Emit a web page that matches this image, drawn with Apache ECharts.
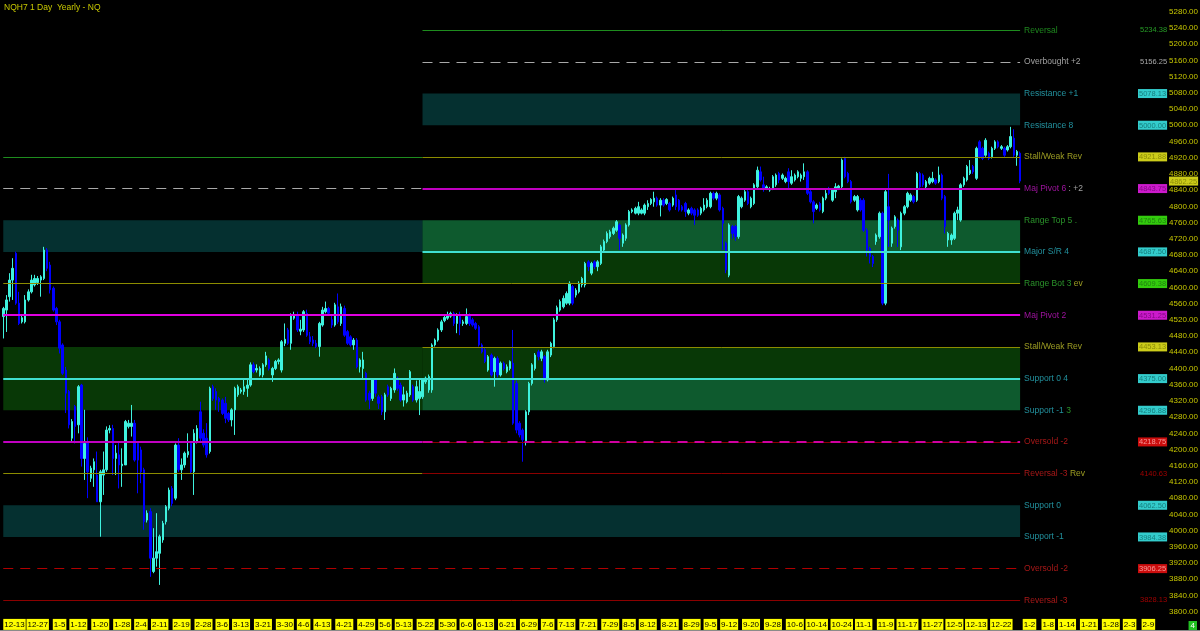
<!DOCTYPE html>
<html><head><meta charset="utf-8">
<script src="https://cdn.jsdelivr.net/npm/echarts@6/dist/echarts.min.js"></script>
<style>html,body{margin:0;padding:0;background:#000;}#c{width:1200px;height:631px;}</style>
</head><body><div id="c"></div>
<script>
// ---------- DATA ----------
const title = 'NQH7 1 Day  Yearly - NQ';
// daily bars [open, close, low, high]
const ohlc = [
[4528,4548,4474,4552],[4544,4569,4490,4581],[4577,4618,4565,4635],[4618,4647,4569,4672],[4684,4561,4557,4688],[4561,4511,4507,4589],[4515,4525,4511,4530],[4515,4569,4511,4581],[4569,4589,4565,4595],[4589,4618,4585,4631],
[4606,4622,4602,4631],[4612,4622,4606,4628],[4618,4626,4577,4630],[4622,4692,4618,4700],[4692,4647,4640,4697],[4655,4594,4585,4663],[4598,4544,4540,4602],[4548,4515,4507,4552],[4515,4450,4437,4520],[4458,4388,4384,4462],
[4396,4339,4290,4404],[4343,4261,4252,4347],[4228,4269,4220,4275],[4306,4257,4215,4310],[4261,4355,4240,4359],[4359,4178,4158,4362],[4178,4215,4125,4298],[4219,4145,4080,4230],[4129,4154,4120,4160],[4150,4170,4108,4178],
[4137,4071,4071,4195],[4071,4145,3985,4150],[4137,4150,4088,4195],[4150,4248,4145,4257],[4248,4252,4240,4260],[4252,4178,4137,4261],[4178,4191,4137,4211],[4187,4162,4104,4219],[4160,4164,4108,4203],[4162,4269,4162,4273],
[4257,4265,4252,4273],[4257,4265,4232,4310],[4265,4174,4170,4273],[4215,4174,4092,4220],[4199,4145,4117,4207],[4150,4022,4002,4155],[4026,4043,4020,4050],[4047,3932,3886,4055],[3899,3932,3895,4006],[3932,3948,3911,4043],
[3944,3985,3866,3990],[3977,4018,3970,4024],[4022,4059,4015,4063],[4055,4100,4050,4106],[4104,4067,4060,4110],[4080,4211,4075,4215],[4211,4150,4145,4228],[4150,4162,4125,4178],[4162,4191,4155,4195],[4187,4195,4180,4240],
[4215,4145,4140,4220],[4145,4240,4088,4250],[4219,4252,4215,4260],[4293,4228,4220,4318],[4240,4211,4205,4250],[4228,4187,4180,4265],[4195,4351,4190,4355],[4355,4326,4320,4360],[4343,4322,4298,4351],[4326,4318,4293,4330],
[4322,4289,4285,4326],[4314,4277,4265,4330],[4289,4273,4268,4293],[4273,4298,4257,4302],[4298,4351,4236,4355],[4335,4355,4330,4360],[4343,4347,4338,4352],[4343,4355,4335,4372],[4351,4359,4330,4372],[4359,4409,4355,4415],
[4409,4392,4388,4415],[4396,4400,4390,4410],[4384,4400,4380,4405],[4384,4409,4378,4413],[4409,4431,4404,4441],[4421,4400,4395,4425],[4384,4400,4367,4404],[4400,4417,4396,4421],[4417,4421,4410,4425],[4396,4466,4390,4470],
[4462,4472,4455,4511],[4495,4462,4458,4500],[4462,4532,4446,4536],[4524,4532,4520,4540],[4532,4495,4490,4540],[4492,4497,4482,4520],[4495,4540,4490,4544],[4536,4482,4478,4545],[4478,4466,4460,4490],[4470,4462,4455,4480],
[4462,4454,4450,4470],[4454,4511,4429,4515],[4507,4544,4503,4552],[4540,4548,4536,4565],[4548,4536,4530,4552],[4520,4507,4500,4530],[4507,4557,4503,4562],[4552,4515,4510,4585],[4511,4552,4505,4560],[4548,4482,4478,4555],
[4491,4462,4458,4495],[4478,4458,4454,4482],[4458,4470,4446,4475],[4470,4404,4400,4475],[4404,4421,4390,4425],[4400,4421,4372,4441],[4388,4322,4318,4392],[4339,4322,4300,4345],[4326,4372,4320,4376],[4372,4339,4330,4376],
[4330,4314,4300,4335],[4330,4293,4285,4335],[4293,4335,4273,4340],[4355,4335,4330,4360],[4326,4351,4320,4355],[4347,4388,4340,4400],[4376,4351,4345,4380],[4359,4322,4318,4365],[4322,4335,4306,4355],[4318,4339,4314,4345],
[4335,4392,4330,4396],[4355,4322,4318,4360],[4322,4355,4316,4370],[4326,4343,4285,4372],[4330,4372,4325,4376],[4367,4376,4362,4380],[4347,4380,4340,4385],[4347,4458,4340,4462],[4458,4470,4454,4474],[4470,4495,4466,4499],
[4495,4515,4490,4520],[4518,4526,4514,4530],[4524,4532,4520,4540],[4529,4536,4525,4540],[4536,4511,4505,4540],[4511,4532,4487,4536],[4532,4511,4482,4540],[4511,4515,4505,4520],[4511,4528,4507,4548],[4532,4511,4505,4536],
[4520,4507,4503,4525],[4511,4499,4495,4515],[4503,4458,4454,4507],[4458,4441,4437,4462],[4446,4417,4413,4450],[4396,4429,4392,4433],[4433,4384,4380,4437],[4392,4425,4355,4429],[4425,4384,4378,4430],[4384,4413,4380,4417],
[4413,4400,4395,4417],[4392,4404,4388,4410],[4400,4417,4395,4420],[4413,4265,4261,4495],[4363,4248,4240,4370],[4265,4236,4230,4270],[4248,4224,4170,4252],[4219,4293,4210,4297],[4293,4363,4285,4367],[4363,4409,4358,4413],
[4400,4433,4395,4438],[4441,4429,4420,4446],[4425,4441,4418,4446],[4429,4372,4365,4433],[4372,4441,4368,4446],[4433,4462,4428,4466],[4454,4520,4450,4525],[4520,4550,4515,4555],[4544,4565,4540,4570],[4552,4573,4548,4580],
[4561,4585,4557,4590],[4561,4610,4556,4615],[4602,4561,4556,4606],[4581,4593,4575,4598],[4589,4610,4585,4615],[4606,4622,4600,4626],[4606,4659,4600,4663],[4663,4651,4640,4667],[4635,4659,4630,4663],[4663,4651,4645,4667],
[4651,4663,4640,4667],[4659,4700,4655,4705],[4692,4713,4688,4718],[4713,4733,4709,4738],[4725,4737,4720,4742],[4733,4746,4729,4750],[4741,4762,4737,4766],[4754,4721,4692,4758],[4709,4729,4700,4733],[4721,4754,4715,4758],
[4754,4787,4750,4791],[4787,4791,4783,4795],[4783,4795,4780,4799],[4783,4799,4778,4811],[4783,4791,4780,4795],[4783,4803,4778,4807],[4799,4807,4791,4815],[4807,4817,4803,4820],[4811,4820,4799,4836],[4820,4803,4799,4824],
[4803,4815,4775,4820],[4815,4803,4799,4820],[4807,4817,4803,4820],[4807,4791,4787,4811],[4803,4820,4799,4824],[4828,4799,4791,4840],[4815,4791,4787,4818],[4799,4791,4787,4803],[4807,4787,4774,4811],[4783,4791,4778,4795],
[4795,4783,4778,4799],[4791,4778,4754,4795],[4791,4778,4774,4795],[4783,4795,4778,4799],[4791,4803,4787,4820],[4799,4815,4795,4820],[4799,4832,4795,4836],[4832,4820,4815,4836],[4820,4832,4815,4836],[4828,4791,4787,4832],
[4795,4758,4692,4799],[4709,4643,4635,4713],[4630,4754,4625,4758],[4750,4733,4720,4754],[4750,4725,4715,4754],[4725,4824,4720,4828],[4799,4820,4795,4824],[4815,4836,4811,4840],[4836,4807,4803,4840],[4799,4820,4795,4824],
[4807,4853,4803,4857],[4848,4889,4844,4898],[4885,4865,4861,4898],[4853,4844,4836,4873],[4844,4848,4840,4852],[4840,4844,4836,4848],[4844,4873,4840,4877],[4853,4877,4848,4881],[4881,4865,4857,4885],[4869,4877,4865,4881],
[4861,4869,4857,4873],[4885,4861,4844,4894],[4857,4873,4853,4889],[4865,4877,4861,4881],[4873,4885,4869,4889],[4869,4877,4861,4881],[4873,4885,4865,4906],[4885,4832,4828,4889],[4836,4811,4807,4840],[4811,4787,4758,4815],
[4795,4803,4791,4807],[4807,4791,4787,4811],[4787,4820,4783,4824],[4820,4832,4815,4840],[4844,4832,4828,4848],[4815,4840,4811,4844],[4836,4848,4820,4857],[4844,4850,4840,4853],[4848,4914,4844,4918],[4918,4873,4869,4922],
[4881,4861,4857,4885],[4861,4811,4807,4865],[4815,4824,4811,4828],[4791,4824,4787,4828],[4815,4791,4787,4820],[4815,4741,4737,4820],[4741,4692,4676,4746],[4696,4676,4659,4700],[4676,4659,4650,4680],[4713,4729,4705,4733],
[4725,4783,4720,4787],[4783,4561,4556,4787],[4561,4836,4556,4840],[4799,4766,4700,4880],[4709,4746,4700,4750],[4750,4774,4745,4778],[4766,4741,4700,4770],[4700,4783,4692,4787],[4783,4799,4778,4803],[4799,4832,4795,4836],
[4815,4828,4811,4832],[4824,4811,4807,4828],[4815,4881,4811,4885],[4881,4848,4844,4885],[4877,4853,4848,4881],[4848,4861,4844,4865],[4857,4869,4853,4873],[4861,4869,4857,4885],[4865,4857,4853,4869],[4861,4877,4857,4898],
[4877,4820,4815,4881],[4824,4750,4733,4828],[4717,4733,4700,4737],[4717,4729,4705,4733],[4721,4783,4717,4787],[4783,4791,4766,4799],[4766,4853,4762,4857],[4853,4869,4848,4873],[4865,4898,4861,4902],[4881,4889,4877,4914],
[4898,4885,4880,4902],[4869,4943,4865,4947],[4959,4922,4918,4963],[4943,4918,4914,4947],[4926,4963,4922,4968],[4931,4918,4914,4935],[4922,4943,4918,4947],[4943,4959,4939,4963],[4959,4947,4943,4963],[4943,4947,4939,4951],
[4943,4926,4922,4947],[4939,4947,4935,4951],[4947,4972,4943,4996],[4968,4926,4922,4990],[4926,4935,4900,4939],[4931,4862.25,4857,4935]
];
const lastPrice = 4862.25;
// level set (current year) shown on the right
const levelNames = ['Reversal','Overbought +2','Resistance +1','Resistance 8','Stall/Weak Rev','Maj Pivot 6','Range Top 5 .','Major S/R 4','Range Bot 3','Maj Pivot 2','Stall/Weak Rev','Support 0 4','Support -1','Oversold -2','Reversal -3','Support 0','Support -1','Oversold -2','Reversal -3'];
const levelTails = ['','','','','',' : +2','','',' ev','','','',' 3','',' Rev','','','',''];
const levelValues = [5234.38,5156.25,5078.13,5000.00,4921.88,4843.75,4765.63,4687.50,4609.38,4531.25,4453.13,4375.00,4296.88,4218.75,4140.63,4062.50,3984.38,3906.25,3828.13];
// x-axis tick labels (dates of the labelled bars)
const tickDates = ['2015-12-13','2015-12-27','2016-01-05','2016-01-12','2016-01-20','2016-01-28','2016-02-04','2016-02-11','2016-02-19','2016-02-28','2016-03-06','2016-03-13','2016-03-21','2016-03-30','2016-04-06','2016-04-13','2016-04-21','2016-04-29','2016-05-06','2016-05-13','2016-05-22','2016-05-30','2016-06-06','2016-06-13','2016-06-21','2016-06-29','2016-07-06','2016-07-13','2016-07-21','2016-07-29','2016-08-05','2016-08-12','2016-08-21','2016-08-29','2016-09-05','2016-09-12','2016-09-20','2016-09-28','2016-10-06','2016-10-14','2016-10-24','2016-11-01','2016-11-09','2016-11-17','2016-11-27','2016-12-05','2016-12-13','2016-12-22','2017-01-02','2017-01-08','2017-01-14','2017-01-21','2017-01-28','2017-02-03','2017-02-09'];
const closedDays = ['2015-12-25','2016-01-01','2016-03-25'];
const firstDay = '2015-12-13';
const totalSlots = 383;

// ---------- category calendar: Sun-Fri sessions in 2015/16, daily projection in 2017 ----------
function buildDates(start, n) {
  const out = []; const d = new Date(start + 'T00:00:00Z');
  while (out.length < n) {
    const iso = d.toISOString().slice(0, 10);
    const sat = d.getUTCDay() === 6 && d.getUTCFullYear() < 2017;
    if (!sat && !closedDays.includes(iso)) out.push(iso);
    d.setUTCDate(d.getUTCDate() + 1);
  }
  return out;
}
const cats = buildDates(firstDay, totalSlots);
const tickSet = new Set(tickDates);
const md = s => { const p = s.split('-'); return (+p[1]) + '-' + (+p[2]); };

const FONT = "'Liberation Sans',Arial,sans-serif";
const E = ohlc.length - 1, S = 134, L = 0;
const up = '#3FF2DE', down = '#0000FF';

const solid = (c, w) => ({ color: c, width: w || 1, type: 'solid', opacity: 1 });
const dash = (c, w) => ({ color: c, width: w || 1, type: [10, 7], opacity: 1 });
const seg = (a, b, v, st) => [{ coord: [cats[a], v], lineStyle: st }, { coord: [cats[b], v] }];
const zone = (a, b, v1, v2, c) => [{ coord: [cats[a], v1], itemStyle: { color: c } }, { coord: [cats[b], v2] }];
const V = levelValues;
const TEAL = 'rgba(12,120,120,0.4)', LTG = 'rgba(35,225,115,0.4)', DKG = 'rgba(20,140,15,0.4)';

const zones = [
  zone(L, S, V[6], V[7], TEAL),
  zone(L, S, V[10], V[12], DKG),
  zone(L, E, V[15], V[16], TEAL),
  zone(S, E, V[2], V[3], TEAL),
  zone(S, E, V[6], V[7], LTG),
  zone(S, E, V[7], V[8], DKG),
  zone(S, E, V[10], V[11], DKG),
  zone(S, E, V[11], V[12], LTG)
];
const lines = [
  seg(S, E, V[0], solid('#1E8C1E')),
  seg(S, E, V[1], dash('#A8A8A8')),
  seg(L, S, V[4], solid('#1E8C1E')),
  seg(S, E, V[4], solid('#8C8C00')),
  seg(L, S, V[5], dash('#A8A8A8')),
  seg(S, E, V[5], solid('#C000C0', 2)),
  seg(S, E, V[7], solid('#40E0D0', 2)),
  seg(L, E, V[8], solid('#8C8C00')),
  seg(L, E, V[9], solid('#E000E0', 2)),
  seg(S, E, V[10], solid('#8C8C00')),
  seg(L, E, V[11], solid('#40E0D0', 2)),
  seg(L, S, V[13], solid('#C000C0', 2)),
  seg(S, E, V[13], solid('#8B0000')),
  seg(S, E, V[13], dash('#D000A0', 2)),
  seg(L, S, V[14], solid('#8C8C00')),
  seg(S, E, V[14], solid('#8B0000')),
  seg(L, E, V[17], dash('#B00000')),
  seg(L, E, V[18], solid('#8B0000'))
];

const nameKeys = ['g','gr','t','t','o','m','l','t','l','m','o','t','t','r','r','t','t','r','r'];
const tailKeys = ['','','','','','gr','','','o','','','','l','','o','','','',''];
const valKeys = ['vg','vgr','vc','vc','vy','vm','vl','vc','vl','vm','vy','vc','vc','vr','vrt','vc','vc','vr','vrt'];
const tx = (c, s) => ({ color: c, fontSize: s || 8.5, fontFamily: FONT });
const box = (bg, c) => ({ color: c, backgroundColor: bg, fontSize: 7.5, fontFamily: FONT, padding: [1, 1, 0, 1], lineHeight: 10 });
const rich = {
  g: tx('#25A825'), gr: tx('#C8C8C8'), t: tx('#2AB4C4'), o: tx('#C2C22A'), m: tx('#C818C8'), l: tx('#34B834'), r: tx('#D21E1E'),
  vg: tx('#30C030', 7.5), vgr: tx('#D0D0D0', 7.5), vrt: tx('#C80000', 7.5),
  vc: box('#40FFFF', '#0E6A6A'), vy: box('#FFFF20', '#7A7A00'), vm: box('#FF20FF', '#700070'),
  vl: box('#40FF10', '#1A7010'), vr: box('#FF1010', '#FFB8B8')
};

const nameData = levelValues.map((v, i) => ({
  value: [cats[E], v],
  label: { formatter: '{' + nameKeys[i] + '|' + levelNames[i] + '}' + (levelTails[i] ? '{' + tailKeys[i] + '|' + levelTails[i] + '}' : '') }
}));
const valData = levelValues.map((v, i) => ({
  value: [cats[E], v],
  label: { formatter: '{' + valKeys[i] + '|' + v.toFixed(2) + '}' }
}));
valData.push({ value: [cats[E], lastPrice], label: { distance: 178, formatter: '{vy|' + lastPrice.toFixed(2) + '}' } });

const chart = echarts.init(document.getElementById('c'), null, { renderer: 'canvas' });
chart.setOption({
  backgroundColor: '#000',
  animation: false,
  title: { text: title, left: 4, top: 3, padding: 0, textStyle: { color: '#C8C800', fontSize: 8.5, fontWeight: 'normal', fontFamily: FONT } },
  grid: { left: 1.7, right: 0, top: -4.5, bottom: 3.1, containLabel: false, outerBoundsMode: 'none' },
  xAxis: {
    type: 'category', data: cats, boundaryGap: true, offset: -11,
    axisLine: { show: false }, axisTick: { show: false }, splitLine: { show: false },
    axisLabel: {
      interval: (i, v) => tickSet.has(v), formatter: v => md(v), margin: 2, hideOverlap: false, alignMinLabel: 'left',
      color: '#000', backgroundColor: '#FFFF00', fontSize: 8, fontFamily: FONT, padding: [1, 1, 0, 1], lineHeight: 10
    }
  },
  yAxis: {
    type: 'value', position: 'right', min: 3760, max: 5320, interval: 40,
    axisLine: { show: false }, axisTick: { show: false }, splitLine: { show: false },
    axisLabel: { inside: true, margin: 2, color: '#C8C800', fontSize: 8, fontFamily: FONT, formatter: v => v.toFixed(2), showMinLabel: false, showMaxLabel: false }
  },
  series: [
    { type: 'candlestick', name: 'NQH7', data: ohlc, z: 2, barWidth: 2,
      itemStyle: { color: up, color0: down, borderColor: up, borderColor0: down, borderWidth: 1 } },
    { type: 'line', name: 'zones', data: [], z: 3, silent: true,
      markArea: { silent: true, label: { show: false }, data: zones } },
    { type: 'line', name: 'levels', data: [], z: 4, silent: true,
      markLine: { silent: true, symbol: ['none', 'none'], label: { show: false }, data: lines } },
    { type: 'scatter', name: 'levelNames', data: nameData, z: 5, symbolSize: 0, silent: true,
      label: { show: true, position: 'right', distance: 4, align: 'left', verticalAlign: 'middle', rich: rich } },
    { type: 'scatter', name: 'levelValues', data: valData, z: 6, symbolSize: 0, silent: true,
      label: { show: true, position: 'right', distance: 147, align: 'right', verticalAlign: 'middle', rich: rich } }
  ],
  graphic: [
    { type: 'rect', left: 0, bottom: 0, shape: { width: 1200, height: 1 }, style: { fill: '#8A8A8A' }, silent: true },
    { type: 'text', right: 3, bottom: 1, style: { text: '4', fill: '#FFFFFF', backgroundColor: '#22C022', padding: [1, 2, 0, 2], fontSize: 8, fontFamily: FONT }, silent: true }
  ]
});
</script></body></html>
